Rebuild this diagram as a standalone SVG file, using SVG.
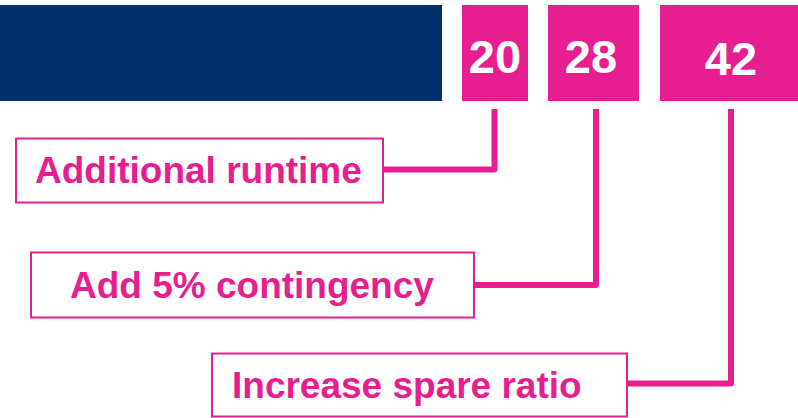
<svg xmlns="http://www.w3.org/2000/svg" width="798" height="418" viewBox="0 0 798 418">
<style>
.bar{fill:#E61E8F}
.num{font-family:"Liberation Sans",Arial,sans-serif;font-weight:bold;font-size:47px;fill:#fff;text-anchor:middle}
.lbl rect{fill:#fff;stroke:#E61E8F;stroke-width:2}
.lbl text{font-family:"Liberation Sans",Arial,sans-serif;font-weight:bold;font-size:37px;fill:#E61E8F}
.conn{fill:none;stroke:#E61E8F;stroke-width:6;stroke-linejoin:round}
</style>
<rect width="798" height="418" fill="#fff"/>
<rect id="base" x="0" y="5" width="442" height="96" fill="#00306B"/>
<g id="n20"><rect class="bar" x="462" y="5" width="66" height="96"/><text class="num" x="495" y="73">20</text></g>
<g id="n28"><rect class="bar" x="548" y="5" width="91" height="96"/><text class="num" x="591" y="73">28</text></g>
<g id="n42"><rect class="bar" x="660" y="5" width="138" height="96"/><text class="num" x="731" y="75">42</text></g>
<g id="connectors">
<path class="conn" d="M494.5,109 V169.5 H383"/>
<path class="conn" d="M596,109 V285 H474"/>
<path class="conn" d="M731,109 V383.5 H627"/>
</g>
<g id="l1" class="lbl"><rect x="16" y="138.5" width="367" height="64"/><text x="35" y="183">Additional runtime</text></g>
<g id="l2" class="lbl"><rect x="31" y="252.5" width="443" height="65"/><text x="70" y="298">Add 5% contingency</text></g>
<g id="l3" class="lbl"><rect x="212" y="353.5" width="415" height="63"/><text x="232" y="398">Increase spare ratio</text></g>
</svg>
